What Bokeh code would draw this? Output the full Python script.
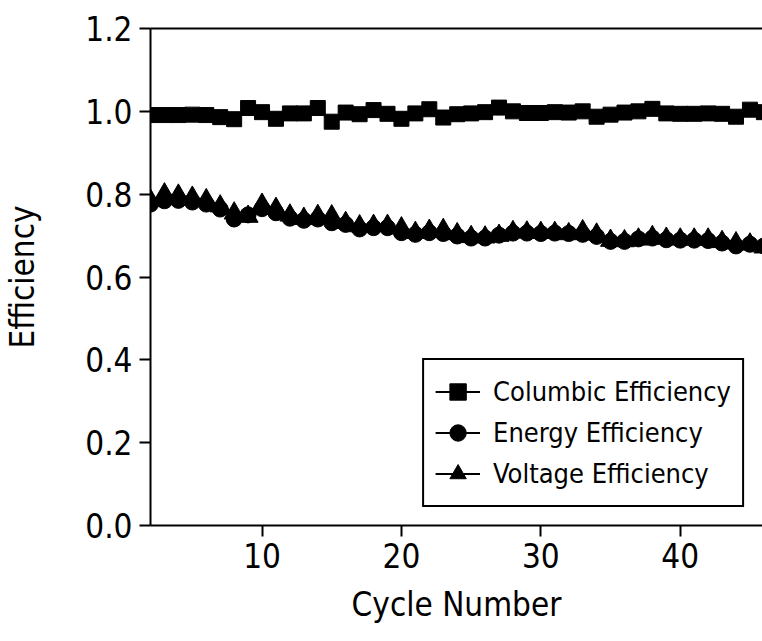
from bokeh.plotting import figure
from bokeh.models import Range1d, FixedTicker, LinearAxis
from bokeh.embed import file_html
from bokeh.resources import INLINE

cycles = list(range(2, 47))
columbic = [0.991, 0.991, 0.991, 0.992, 0.991, 0.986, 0.981, 1.008, 0.998, 0.982,
            0.995, 0.995, 1.008, 0.975, 0.997, 0.993, 1.003, 0.994, 0.982, 0.995,
            1.005, 0.985, 0.993, 0.995, 0.998, 1.009, 1.000, 0.996, 0.996, 0.998,
            0.997, 1.000, 0.987, 0.992, 0.997, 1.000, 1.006, 0.995, 0.994, 0.994,
            0.995, 0.994, 0.987, 1.004, 0.998]
energy = [0.776, 0.784, 0.785, 0.781, 0.776, 0.764, 0.740, 0.750, 0.765, 0.755,
          0.742, 0.737, 0.740, 0.731, 0.727, 0.716, 0.719, 0.719, 0.707, 0.703,
          0.707, 0.705, 0.699, 0.694, 0.694, 0.701, 0.706, 0.706, 0.705, 0.706,
          0.705, 0.703, 0.698, 0.686, 0.686, 0.692, 0.694, 0.690, 0.689, 0.689,
          0.688, 0.682, 0.675, 0.679, 0.675]
voltage = [0.785, 0.800, 0.797, 0.792, 0.786, 0.771, 0.754, 0.746, 0.775, 0.765,
           0.749, 0.741, 0.748, 0.747, 0.731, 0.723, 0.724, 0.724, 0.718, 0.707,
           0.712, 0.714, 0.704, 0.697, 0.696, 0.700, 0.709, 0.708, 0.707, 0.707,
           0.704, 0.711, 0.703, 0.688, 0.687, 0.691, 0.697, 0.693, 0.691, 0.691,
           0.691, 0.685, 0.682, 0.679, 0.672]

x_ticks = [10, 20, 30, 40]
y_ticks = [0.0, 0.2, 0.4, 0.6, 0.8, 1.0, 1.2]
y_tick_labels = ["0.0", "0.2", "0.4", "0.6", "0.8", "1.0", "1.2"]

FONT = "'DejaVu Sans Condensed', 'Liberation Sans Narrow', 'Roboto Condensed', 'Liberation Sans', sans-serif"

p = figure(width=762, height=641, x_range=Range1d(2, 45.9), y_range=Range1d(0, 1.2),
           output_backend="svg", toolbar_location=None,
           min_border_left=145, min_border_right=0, min_border_top=28, min_border_bottom=116)
p.outline_line_color = None
p.xgrid.visible = False
p.ygrid.visible = False

for ax in (p.xaxis[0], p.yaxis[0]):
    ax.axis_line_width = 2
    ax.major_tick_line_width = 2
    ax.major_tick_in = 0
    ax.major_tick_out = 11
    ax.minor_tick_line_color = None
    ax.major_label_text_font = FONT
    ax.major_label_text_font_size = "33px"
    ax.major_label_text_color = "black"
    ax.axis_label_text_font = FONT
    ax.axis_label_text_font_size = "33px"
    ax.axis_label_text_font_style = "normal"
    ax.axis_label_text_color = "black"

p.xaxis.ticker = FixedTicker(ticks=x_ticks)
p.yaxis.ticker = FixedTicker(ticks=y_ticks)
p.yaxis.major_label_overrides = {t: l for t, l in zip(y_ticks, y_tick_labels)}
p.xaxis.axis_label = "Cycle Number"
p.yaxis.axis_label = "Efficiency"
p.xaxis.major_label_standoff = 6
p.yaxis.major_label_standoff = 7
p.xaxis.axis_label_standoff = 14
p.yaxis.axis_label_standoff = 40

top = LinearAxis(ticker=FixedTicker(ticks=[]), axis_line_width=2,
                 major_tick_line_color=None, minor_tick_line_color=None,
                 major_label_text_font_size="0px")
p.add_layout(top, "above")

series = [
    ("Columbic Efficiency", columbic, "square", 15),
    ("Energy Efficiency", energy, "circle", 16),
    ("Voltage Efficiency", voltage, "triangle", 20),
]
for name, vals, marker, size in series:
    p.line(cycles, vals, line_color="black", line_width=2, legend_label=name)
    p.scatter(cycles, vals, marker=marker, size=size, fill_color="black",
              line_color="black", legend_label=name)

lg = p.legend[0]
lg.location = "bottom_right"
lg.margin = 18
lg.padding = 11
lg.spacing = 0
lg.border_line_color = "black"
lg.border_line_alpha = 1
lg.border_line_width = 2
lg.background_fill_alpha = 1
lg.label_text_font = FONT
lg.label_text_color = "black"
lg.label_text_font_size = "27px"
lg.label_height = 41
lg.glyph_height = 41
lg.glyph_width = 45
lg.label_standoff = 13

open("out.html", "w").write(file_html(p, INLINE))
